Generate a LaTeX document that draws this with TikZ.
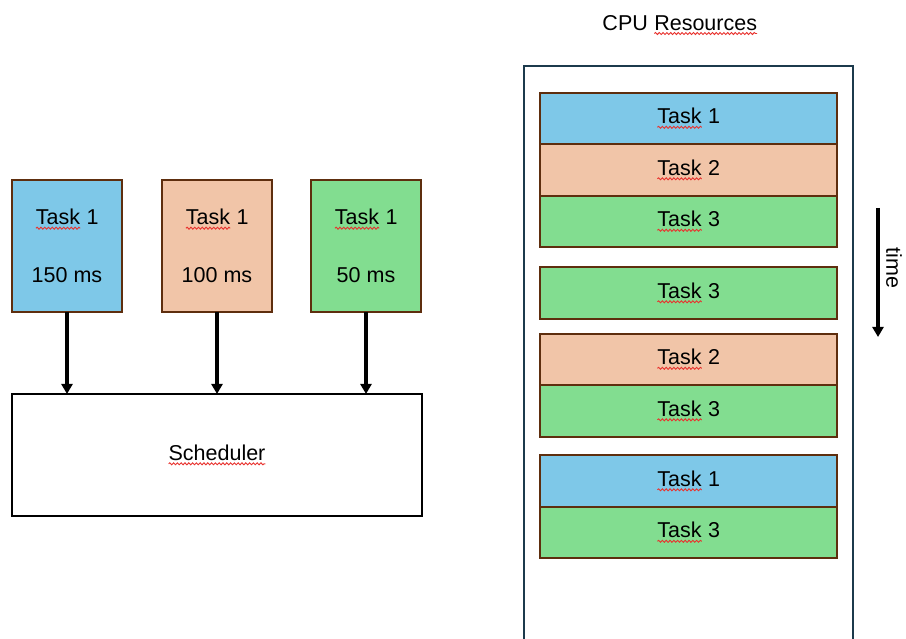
\documentclass[tikz,border=0pt]{standalone}
\usepackage{fontspec}
\setmainfont{Liberation Sans}
\usetikzlibrary{decorations.pathmorphing,arrows.meta}

\definecolor{taskblue}{HTML}{7EC8E8}
\definecolor{taskpeach}{HTML}{F1C5A8}
\definecolor{taskgreen}{HTML}{82DD90}
\definecolor{taskedge}{HTML}{5E2E0E}
\definecolor{cpuedge}{HTML}{1C3A4C}
\definecolor{spellred}{HTML}{E8322E}

% word with a red wavy underline
\newcommand\spellmark[1]{\tikz[baseline=(sw.base)]{%
  \node[draw=none,fill=none,minimum width=0pt,minimum height=0pt,
        inner sep=0pt,outer sep=0pt] (sw) {#1};
  \draw[draw=spellred,fill=none,line width=0.9pt,decorate,
        decoration={snake,amplitude=1pt,segment length=3.8pt}]
    ([yshift=-3.5pt]sw.base west) -- ([yshift=-3.5pt]sw.base east);}}

\tikzset{
  lbl/.style={font=\fontsize{21.5}{25}\selectfont},
  taskbox/.style={lbl,draw=taskedge,line width=2pt,minimum width=110pt,
    minimum height=132pt,inner sep=0pt,outer sep=0pt,align=center},
  slot/.style={lbl,draw=taskedge,line width=2.2pt,minimum width=297pt,
    minimum height=51.5pt,inner sep=0pt,outer sep=0pt},
  conn/.style={line width=3.2pt,-{Triangle[length=10pt,width=11pt]}},
}

\begin{document}
\begin{tikzpicture}[x=1pt,y=-1pt]
\useasboundingbox (0,0) rectangle (906,639);

% incoming tasks
\node[taskbox,fill=taskblue]  (ta) at (67,246)  {\spellmark{Task} 1\\[33pt]150 ms};
\node[taskbox,fill=taskpeach] (tb) at (217,246) {\spellmark{Task} 1\\[33pt]100 ms};
\node[taskbox,fill=taskgreen] (tc) at (366,246) {\spellmark{Task} 1\\[33pt]50 ms};

% scheduler
\node[lbl,draw=black,line width=2.5pt,minimum width=410pt,minimum height=122pt,
      inner sep=0pt,outer sep=0pt] (sch) at (217,455) {\spellmark{Scheduler}};

\draw[conn] (ta.south) -- (ta.south |- sch.north);
\draw[conn] (tb.south) -- (tb.south |- sch.north);
\draw[conn] (tc.south) -- (tc.south |- sch.north);

% CPU resources column
\node[lbl] (cpu) at (680,25) {CPU \spellmark{Resources}};
\coordinate (cbl) at (524,641);
\coordinate (ctl) at (524,66);
\coordinate (ctr) at (853,66);
\coordinate (cbr) at (853,641);
\draw[cpuedge,line width=2pt] (cbl) -- (ctl) -- (ctr) -- (cbr);

\node[slot,fill=taskblue]  (s1) at (688.5,118.5) {\spellmark{Task} 1};
\node[slot,fill=taskpeach] (s2) at (688.5,170)   {\spellmark{Task} 2};
\node[slot,fill=taskgreen] (s3) at (688.5,221.5) {\spellmark{Task} 3};
\node[slot,fill=taskgreen] (s4) at (688.5,293)   {\spellmark{Task} 3};
\node[slot,fill=taskpeach] (s5) at (688.5,359.5) {\spellmark{Task} 2};
\node[slot,fill=taskgreen] (s6) at (688.5,411)   {\spellmark{Task} 3};
\node[slot,fill=taskblue]  (s7) at (688.5,481)   {\spellmark{Task} 1};
\node[slot,fill=taskgreen] (s8) at (688.5,532.5) {\spellmark{Task} 3};

% time axis
\coordinate (t0) at (878,208);
\coordinate (t1) at (878,337);
\draw[conn] (t0) -- (t1);
\node[lbl,rotate=-90] (tm) at (894,268) {time};
\end{tikzpicture}
\end{document}
